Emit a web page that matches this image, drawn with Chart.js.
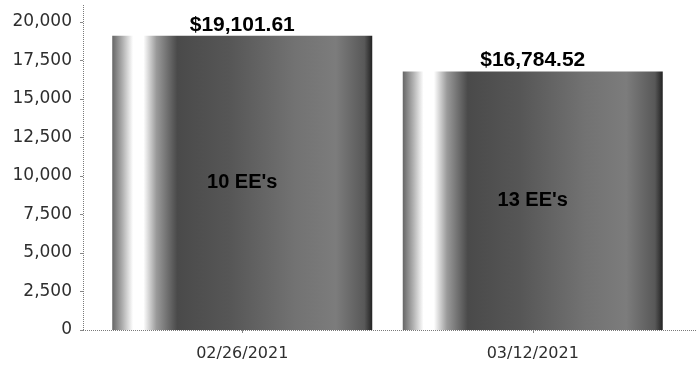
<!DOCTYPE html>
<html>
<head>
<meta charset="utf-8">
<script src="https://cdn.jsdelivr.net/npm/chart.js@4/dist/chart.umd.min.js"></script>
<style>
  html, body { margin: 0; padding: 0; background: #ffffff; }
  #wrap { width: 698px; height: 365px; }
</style>
</head>
<body>
<div id="wrap"><canvas id="c" width="698" height="365"></canvas></div>
<script>
// Payroll totals per pay date
const payDates = ['02/26/2021', '03/12/2021'];
const payrollTotals = [19101.61, 16784.52];
const employeeCounts = [10, 13];
const yTickValues = [0, 2500, 5000, 7500, 10000, 12500, 15000, 17500, 20000];

const CAT_PCT = 0.895;

// Shaded cylinder-like fill: grey edge, bright highlight, dark body fading lighter
function barFill(ctx) {
  const chart = ctx.chart;
  const area = chart.chartArea;
  const xs = chart.scales.x;
  if (!area || !xs) return '#555555';
  const cx = xs.getPixelForValue(ctx.dataIndex);
  const w = (area.width / payDates.length) * CAT_PCT;
  const x0 = cx - w / 2, x1 = cx + w / 2;
  const g = chart.ctx.createLinearGradient(x0, 0, x1, 0);
  g.addColorStop(0.00, '#666666');
  g.addColorStop(0.04, '#b0b0b0');
  g.addColorStop(0.08, '#ffffff');
  g.addColorStop(0.12, '#ffffff');
  g.addColorStop(0.17, '#9a9a9a');
  g.addColorStop(0.25, '#4a4a4a');
  g.addColorStop(0.45, '#565656');
  g.addColorStop(0.70, '#727272');
  g.addColorStop(0.86, '#7c7c7c');
  g.addColorStop(0.97, '#585858');
  g.addColorStop(1.00, '#222222');
  return g;
}

// Axis lines, tick marks and the value / headcount labels
const decorations = {
  id: 'decorations',
  afterDraw(chart) {
    const c = chart.ctx;
    const a = chart.chartArea;
    const ys = chart.scales.y;
    const xs = chart.scales.x;
    const axisX = a.left - 14;
    c.save();
    c.strokeStyle = '#7a7a7a';
    c.lineWidth = 1;
    c.setLineDash([1, 1]);
    c.beginPath();
    c.moveTo(axisX + 0.5, a.top);
    c.lineTo(axisX + 0.5, a.bottom);
    c.moveTo(axisX, a.bottom + 0.5);
    c.lineTo(chart.width - 1, a.bottom + 0.5);
    c.stroke();
    c.setLineDash([]);
    c.strokeStyle = '#888888';
    c.beginPath();
    yTickValues.forEach(v => {
      const y = Math.round(ys.getPixelForValue(v)) + 0.5;
      c.moveTo(axisX - 3, y);
      c.lineTo(axisX, y);
    });
    payDates.forEach((d, i) => {
      const x = Math.round(xs.getPixelForValue(i)) + 0.5;
      c.moveTo(x, a.bottom);
      c.lineTo(x, a.bottom + 3);
    });
    c.stroke();

    const meta = chart.getDatasetMeta(0);
    c.fillStyle = '#000000';
    c.textAlign = 'center';
    meta.data.forEach((el, i) => {
      const val = payrollTotals[i];
      c.font = 'bold 21px "Liberation Sans", Arial, sans-serif';
      c.textBaseline = 'alphabetic';
      c.fillText('$' + val.toLocaleString('en-US', { minimumFractionDigits: 2, maximumFractionDigits: 2 }), el.x, el.y - 5);
      c.font = 'bold 20px "Liberation Sans", Arial, sans-serif';
      c.textBaseline = 'middle';
      c.fillText(employeeCounts[i] + " EE's", el.x, (el.y + el.base) / 2);
    });
    c.restore();
  }
};

new Chart(document.getElementById('c'), {
  type: 'bar',
  data: {
    labels: payDates,
    datasets: [{
      data: payrollTotals,
      backgroundColor: barFill,
      borderWidth: 0,
      categoryPercentage: CAT_PCT,
      barPercentage: 1
    }]
  },
  options: {
    responsive: false,
    animation: false,
    layout: { padding: { top: 5, right: 20, bottom: 0, left: 0 } },
    plugins: { legend: { display: false }, tooltip: { enabled: false } },
    scales: {
      x: {
        grid: { display: false },
        border: { display: false },
        ticks: {
          padding: 6,
          color: '#2e2e2e',
          font: { family: '"DejaVu Sans", sans-serif', size: 16 }
        },
        afterFit(scale) { scale.height = 35; }
      },
      y: {
        min: 0,
        max: 21100,
        grid: { display: false },
        border: { display: false },
        afterBuildTicks(scale) { scale.ticks = yTickValues.map(v => ({ value: v })); },
        ticks: {
          padding: 17,
          color: '#2e2e2e',
          font: { family: '"DejaVu Sans", sans-serif', size: 17 },
          callback: v => v.toLocaleString('en-US')
        },
        afterFit(scale) {
          scale.width = 97;
          scale.paddingTop = 0;
          scale.paddingBottom = 0;
        }
      }
    }
  },
  plugins: [decorations]
});
</script>
</body>
</html>
